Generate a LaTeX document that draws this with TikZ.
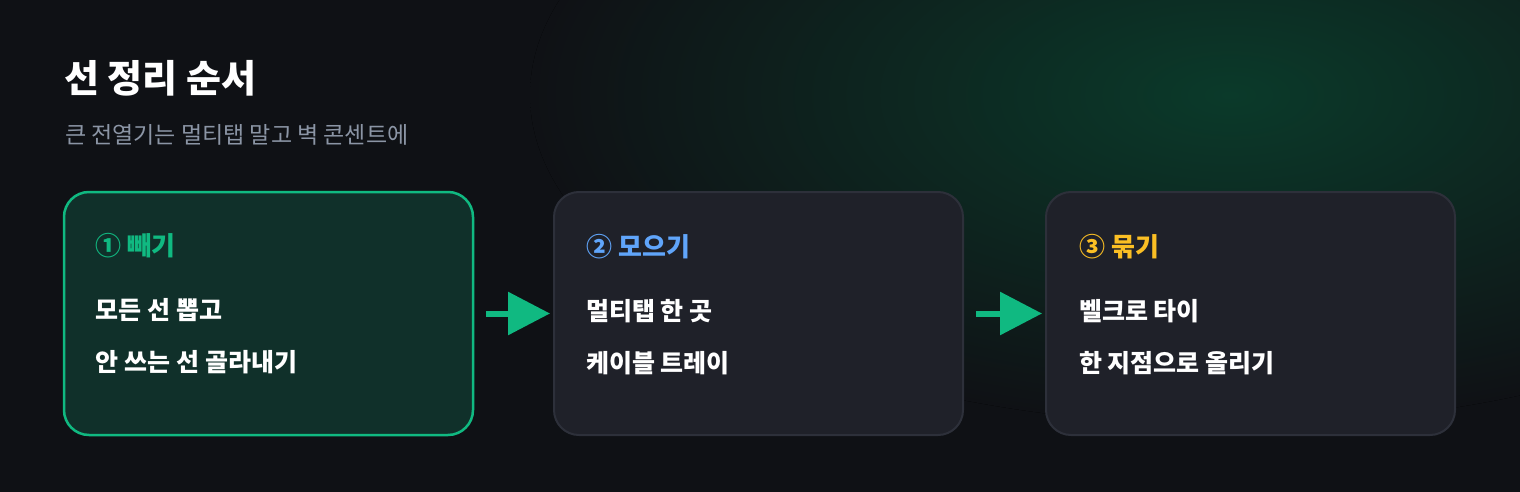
\documentclass[tikz,border=0pt]{standalone}
\usepackage{fontspec}
\setmainfont{Noto Sans CJK KR}
\usetikzlibrary{arrows.meta}
\definecolor{bgc}{HTML}{0F1115}
\definecolor{glowc}{HTML}{0B3A2A}
\definecolor{greenc}{HTML}{10B981}
\definecolor{bluec}{HTML}{60A5FA}
\definecolor{amberc}{HTML}{FBBF24}
\definecolor{subc}{HTML}{8B95A5}
\definecolor{boxfill}{HTML}{1F2129}
\definecolor{boxline}{HTML}{2D303A}
\definecolor{activefill}{HTML}{10302A}
\begin{document}
\begin{tikzpicture}[x=1pt,y=-1pt,
  card/.style={draw=boxline, fill=boxfill, line width=2pt, rounded corners=25pt,
    minimum width=409pt, minimum height=243pt, inner sep=0pt},
  activecard/.style={card, draw=greenc, fill=activefill, line width=2.5pt},
  txt/.style={inner sep=0pt, anchor=base west, text=white},
  hdr/.style={txt, font=\fontsize{26}{30}\selectfont\bfseries},
  body/.style={txt, font=\fontsize{25}{29}\selectfont\bfseries},
  flow/.style={draw=greenc, line width=6pt,
    -{Triangle[length=42pt,width=42pt]}, shorten <=12pt, shorten >=3pt}
]
\useasboundingbox (0,0) rectangle (1520,492);
\fill[bgc] (0,0) rectangle (1520,492);
\begin{scope}
  \clip (0,0) rectangle (1520,492);
  \fill[inner color=glowc, outer color=bgc] (1230,95) ellipse (700pt and 330pt);
\end{scope}

\node[txt, font=\fontsize{38}{44}\selectfont\bfseries] (title) at (64,93) {선 정리 순서};
\node[txt, text=subc, font=\fontsize{23}{28}\selectfont] (sub) at (65,143) {큰 전열기는 멀티탭 말고 벽 콘센트에};

\node[activecard] (b1) at (268.5,313.5) {};
\node[card] (b2) at (758.5,313.5) {};
\node[card] (b3) at (1250.5,313.5) {};

\node[hdr, text=greenc] (h1) at ([xshift=33pt,yshift=-65pt]b1.north west) {① 빼기};
\node[body] (l11) at ([xshift=33pt,yshift=-129pt]b1.north west) {모든 선 뽑고};
\node[body] (l12) at ([xshift=33pt,yshift=-181pt]b1.north west) {안 쓰는 선 골라내기};

\node[hdr, text=bluec] (h2) at ([xshift=33pt,yshift=-65pt]b2.north west) {② 모으기};
\node[body] (l21) at ([xshift=33pt,yshift=-129pt]b2.north west) {멀티탭 한 곳};
\node[body] (l22) at ([xshift=33pt,yshift=-181pt]b2.north west) {케이블 트레이};

\node[hdr, text=amberc] (h3) at ([xshift=34pt,yshift=-65pt]b3.north west) {③ 묶기};
\node[body] (l31) at ([xshift=34pt,yshift=-129pt]b3.north west) {벨크로 타이};
\node[body] (l32) at ([xshift=34pt,yshift=-181pt]b3.north west) {한 지점으로 올리기};

\draw[flow] (b1.east) -- (b2.west);
\draw[flow] (b2.east) -- (b3.west);
\end{tikzpicture}
\end{document}
